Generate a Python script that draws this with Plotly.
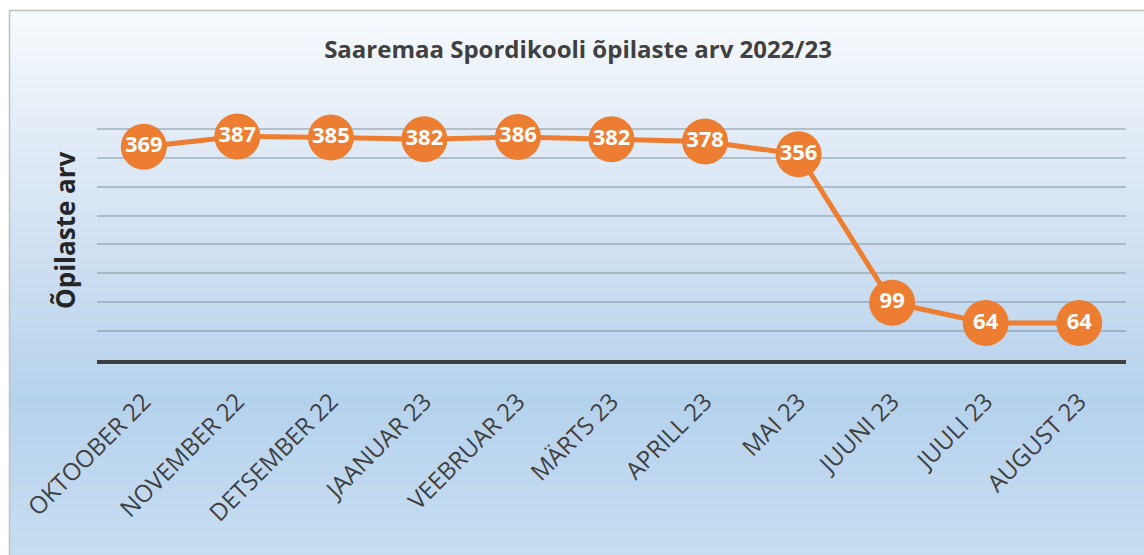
import plotly.graph_objects as go

# andmed
kuud = ["OKTOOBER 22", "NOVEMBER 22", "DETSEMBER 22", "JAANUAR 23", "VEEBRUAR 23",
        "MÄRTS 23", "APRILL 23", "MAI 23", "JUUNI 23", "JUULI 23", "AUGUST 23"]
opilased = [369, 387, 385, 382, 386, 382, 378, 356, 99, 64, 64]

W, H = 1144, 555
L, R, T, B = 97, 18, 100, 195
pw, ph = W - L - R, H - T - B


def px_x(x):
    return (x - L) / pw


def px_y(y):
    return (H - B - y) / ph


def mix(c1, c2, t):
    return "rgb(%d,%d,%d)" % tuple(round(a + (b - a) * t) for a, b in zip(c1, c2))


# taustagradient (ülevalt alla)
stops = [(10, (246, 250, 253)), (120, (228, 237, 247)), (250, (207, 224, 242)),
         (400, (181, 210, 236)), (555, (200, 222, 242))]
shapes = []
y = 10
step = 4
while y < 556:
    for (y0, c0), (y1, c1) in zip(stops, stops[1:]):
        if y0 <= y <= y1:
            col = mix(c0, c1, (y - y0) / (y1 - y0))
            break
    shapes.append(dict(type="rect", xref="paper", yref="paper", layer="below",
                       x0=px_x(9), x1=px_x(W + 5), y0=px_y(y + step), y1=px_y(y),
                       fillcolor=col, line=dict(width=0)))
    y += step
shapes.append(dict(type="rect", xref="paper", yref="paper", layer="below",
                   x0=px_x(9.5), x1=px_x(W + 5), y0=px_y(H + 5), y1=px_y(10.5),
                   fillcolor="rgba(0,0,0,0)", line=dict(color="#c0c0c0", width=1.5)))

fig = go.Figure()
fig.add_trace(go.Scatter(
    x=kuud, y=opilased,
    mode="lines+markers+text",
    line=dict(color="#ED7D31", width=5),
    marker=dict(color="#ED7D31", size=46),
    text=[str(v) for v in opilased],
    textposition="middle center",
    textfont=dict(family="Open Sans", size=22, color="white", weight="bold"),
    cliponaxis=False,
    hoverinfo="x+y"
))

fig.update_layout(
    width=W, height=H,
    margin=dict(l=L, r=R, t=T, b=B),
    paper_bgcolor="white",
    plot_bgcolor="rgba(0,0,0,0)",
    shapes=shapes,
    showlegend=False,
    title=dict(text="<b>Saaremaa Spordikooli õpilaste arv 2022/23</b>",
               x=px_x(578), xanchor="center", xref="paper",
               y=1 - 50 / H, yanchor="middle",
               font=dict(family="Open Sans", size=24, color="#404040")),
    font=dict(family="Open Sans", color="#404040"),
    annotations=[dict(text="<b>Õpilaste arv</b>", textangle=-90,
                      xref="paper", yref="paper", x=px_x(65), y=px_y(230),
                      xanchor="center", yanchor="middle", showarrow=False,
                      font=dict(size=26, color="#262626"))],
)
fig.update_xaxes(
    range=[-0.5, len(kuud) - 0.5],
    tickangle=-45,
    tickfont=dict(size=24, color="#404040"),
    showgrid=False,
    showline=True, linecolor="#404040", linewidth=4,
    ticks="outside", ticklen=14, tickcolor="rgba(0,0,0,0)", zeroline=False,
)
fig.update_yaxes(
    range=[0, 450], dtick=50,
    showticklabels=False,
    showgrid=True, gridcolor="rgba(110,125,140,0.4)", gridwidth=1.5,
    zeroline=False,
)

fig.write_html("out.html", config={"displayModeBar": False},
               post_script="document.body.style.margin='0';")
